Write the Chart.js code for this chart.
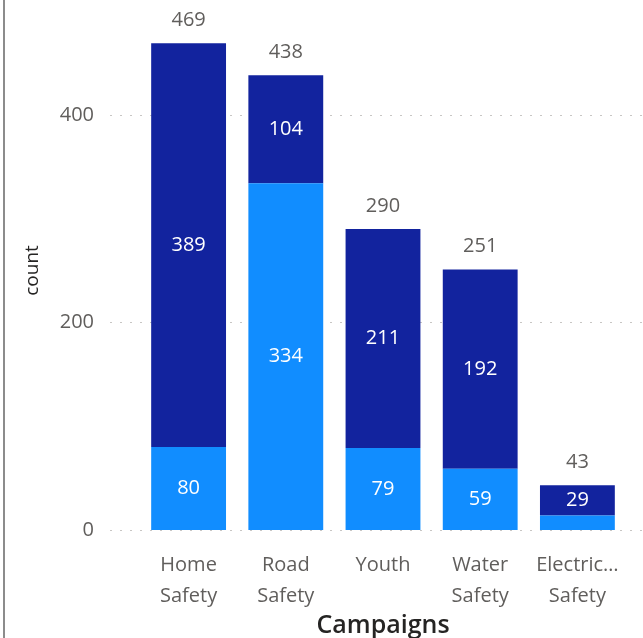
<!DOCTYPE html>
<html>
<head>
<meta charset="utf-8">
<script src="https://cdn.jsdelivr.net/npm/chart.js@4.4.1/dist/chart.umd.min.js"></script>
<style>
  body { margin: 0; background: #fff; }
  #wrap { position: relative; width: 643px; height: 638px; }
  #edge { position: absolute; left: 3px; top: 0; width: 2px; height: 638px; background: #8c8c8c; }
  canvas { position: absolute; left: 0; top: 0; }
</style>
</head>
<body>
<div id="wrap">
  <div id="edge"></div>
  <canvas id="chart" width="643" height="638"></canvas>
</div>
<script>
const categories = ['Home Safety', 'Road Safety', 'Youth', 'Water Safety', 'Electric Safety'];
const tickLabels = [['Home', 'Safety'], ['Road', 'Safety'], 'Youth', ['Water', 'Safety'], ['Electric…', 'Safety']];
const lowerValues = [80, 334, 79, 59, 14];
const upperValues = [389, 104, 211, 192, 29];
const totals = [469, 438, 290, 251, 43];
const yTicks = [0, 200, 400];

const FONT = 'Open Sans';

// dotted horizontal grid, a bit wider than the plot area like the original
const dottedGrid = {
    id: 'dottedGrid',
    beforeDatasetsDraw(chart) {
        const ctx = chart.ctx;
        const y = chart.scales.y;
        ctx.save();
        ctx.strokeStyle = '#c8c6c4';
        ctx.lineWidth = 1;
        ctx.setLineDash([2, 8]);
        yTicks.forEach(v => {
            const py = Math.round(y.getPixelForValue(v)) + 0.5;
            ctx.beginPath();
            ctx.moveTo(110, py);
            ctx.lineTo(chart.width, py);
            ctx.stroke();
        });
        ctx.restore();
    }
};

// segment values inside the bars, totals on top
const barLabels = {
    id: 'barLabels',
    afterDatasetsDraw(chart) {
        const ctx = chart.ctx;
        ctx.save();
        ctx.font = '20px "' + FONT + '"';
        ctx.textAlign = 'center';
        ctx.textBaseline = 'middle';
        chart.data.datasets.forEach((ds, di) => {
            const meta = chart.getDatasetMeta(di);
            meta.data.forEach((bar, i) => {
                if (bar.base - bar.y < 22) return; // too small for a label
                ctx.fillStyle = '#ffffff';
                ctx.fillText(ds.data[i], bar.x, (bar.y + bar.base) / 2);
            });
        });
        ctx.fillStyle = '#605e5c';
        chart.getDatasetMeta(1).data.forEach((bar, i) => {
            ctx.fillText(totals[i], bar.x, bar.y - 23);
        });
        ctx.restore();
    }
};

const chart = new Chart(document.getElementById('chart').getContext('2d'), {
    type: 'bar',
    data: {
        labels: tickLabels,
        datasets: [{
            label: 'lower',
            data: lowerValues,
            backgroundColor: '#118dff',
            barPercentage: 0.77,
            categoryPercentage: 1
        }, {
            label: 'upper',
            data: upperValues,
            backgroundColor: '#12239e',
            barPercentage: 0.77,
            categoryPercentage: 1
        }]
    },
    options: {
        responsive: false,
        animation: false,
        layout: { padding: { top: 11, right: 17, left: 0, bottom: 0 } },
        plugins: {
            legend: { display: false },
            tooltip: { enabled: false }
        },
        scales: {
            x: {
                stacked: true,
                afterFit: s => { s.height = 108; s.paddingLeft = 0; s.paddingRight = 0; },
                grid: { display: false, drawTicks: false },
                border: { display: false },
                ticks: {
                    color: '#605e5c',
                    font: { family: FONT, size: 20, lineHeight: 1.55 },
                    padding: 20,
                    maxRotation: 0,
                    autoSkip: false
                },
                title: {
                    display: true,
                    text: 'Campaigns',
                    color: '#252423',
                    font: { family: FONT, size: 25, weight: '600', lineHeight: 1 },
                    padding: { top: 0, bottom: 0 }
                }
            },
            y: {
                stacked: true,
                min: 0,
                max: 500,
                afterBuildTicks: s => { s.ticks = yTicks.map(v => ({ value: v })); },
                afterFit: s => { s.width = 140; s.paddingTop = 0; s.paddingBottom = 0; },
                grid: { display: false, drawTicks: false },
                border: { display: false },
                ticks: {
                    color: '#605e5c',
                    font: { family: FONT, size: 20 },
                    padding: 46
                },
                title: {
                    display: true,
                    text: 'count',
                    color: '#252423',
                    font: { family: FONT, size: 19 },
                    padding: { top: 21, bottom: 0 }
                }
            }
        }
    },
    plugins: [dottedGrid, barLabels]
});
</script>
</body>
</html>
